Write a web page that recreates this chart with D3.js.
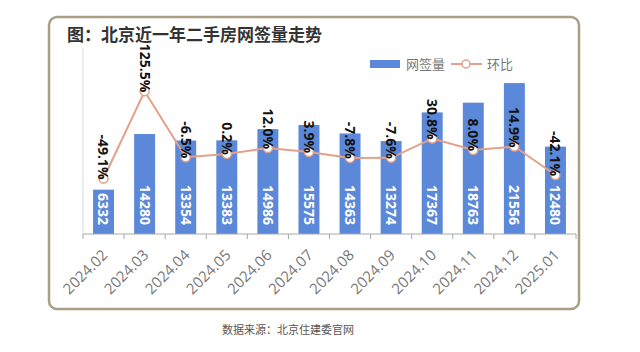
<!DOCTYPE html>
<html>
<head>
<meta charset="utf-8">
<script src="https://cdn.jsdelivr.net/npm/d3@7"></script>
<style>
  body { margin: 0; background: #fff; }
  text { font-family: "Open Sans", "Noto Sans CJK SC", sans-serif; }
  .cjk { font-family: "Noto Sans CJK SC", sans-serif; }
</style>
</head>
<body>
<div id="chart"></div>
<script>
const months = ['2024.02', '2024.03', '2024.04', '2024.05', '2024.06', '2024.07',
  '2024.08', '2024.09', '2024.10', '2024.11', '2024.12', '2025.01'];
const signed = [6332, 14280, 13354, 13383, 14986, 15575, 14363, 13274, 17367, 18763, 21556, 12480];
const mom = [-49.1, 125.5, -6.5, 0.2, 12.0, 3.9, -7.8, -7.6, 30.8, 8.0, 14.9, -42.1];

const width = 640;
const height = 352;
const barColor = '#5b88d8';
const lineColor = '#e4a08a';

const svg = d3.select('#chart').append('svg')
  .attr('width', width)
  .attr('height', height);

// card frame
svg.append('rect')
  .attr('x', 49).attr('y', 17)
  .attr('width', 530).attr('height', 292)
  .attr('rx', 8)
  .attr('fill', '#fff')
  .attr('stroke', '#a99f82')
  .attr('stroke-width', 2.5);

svg.append('text')
  .attr('class', 'cjk')
  .attr('x', 67).attr('y', 41)
  .attr('fill', '#333')
  .style('font-size', '17px')
  .style('font-weight', 'bold')
  .text('图：北京近一年二手房网签量走势');

const x = d3.scaleBand().domain(months).range([83, 576]).paddingInner(0.49).paddingOuter(0.245);
const xTicks = d3.scaleBand().domain(months).range([83, 576]);
const y = d3.scaleLinear().domain([0, 25000]).range([234, 59]);
const y2 = d3.scaleLinear().domain([-160, 190]).range([234, 59]);

// left axis line
svg.append('line')
  .attr('x1', 83).attr('x2', 83)
  .attr('y1', 48).attr('y2', 234)
  .attr('stroke', '#d5dbe6');

// bars
svg.append('g').selectAll('rect')
  .data(signed)
  .join('rect')
  .attr('x', (d, i) => x(months[i]))
  .attr('y', d => y(d))
  .attr('width', x.bandwidth())
  .attr('height', d => y(0) - y(d))
  .attr('fill', barColor);

// bar value labels
svg.append('g').selectAll('text')
  .data(signed)
  .join('text')
  .attr('transform', (d, i) => `translate(${x(months[i]) + x.bandwidth() / 2},${y(0) - 9}) rotate(90)`)
  .attr('dy', '0.36em')
  .attr('text-anchor', 'end')
  .attr('fill', '#fff')
  .style('font-size', '14px')
  .style('font-weight', 'bold')
  .text(d => d);

// x axis
const xAxis = svg.append('g')
  .attr('transform', 'translate(0,234)');
xAxis.append('line')
  .attr('x1', 83).attr('x2', 576)
  .attr('stroke', '#a8a8a8');
xAxis.selectAll('.tick')
  .data(d3.range(months.length + 1))
  .join('line')
  .attr('x1', i => 83 + i * xTicks.step())
  .attr('x2', i => 83 + i * xTicks.step())
  .attr('y2', 5)
  .attr('stroke', '#a8a8a8');
xAxis.selectAll('text')
  .data(months)
  .join('text')
  .attr('transform', d => `translate(${x(d) + x.bandwidth() / 2 + 5},${22}) rotate(-45)`)
  .attr('text-anchor', 'end')
  .attr('fill', '#777')
  .style('font-size', '15px')
  .text(d => d);

// month-on-month line
const line = d3.line()
  .x((d, i) => x(months[i]) + x.bandwidth() / 2)
  .y(d => y2(d));

svg.append('path')
  .datum(mom)
  .attr('d', line)
  .attr('fill', 'none')
  .attr('stroke', lineColor)
  .attr('stroke-width', 2);

svg.append('g').selectAll('circle')
  .data(mom)
  .join('circle')
  .attr('cx', (d, i) => x(months[i]) + x.bandwidth() / 2)
  .attr('cy', d => y2(d))
  .attr('r', 4.5)
  .attr('fill', '#fff')
  .attr('stroke', lineColor)
  .attr('stroke-width', 1.5);

svg.append('g').selectAll('text')
  .data(mom)
  .join('text')
  .attr('transform', (d, i) => `translate(${x(months[i]) + x.bandwidth() / 2},${y2(d) + 1}) rotate(90)`)
  .attr('dy', '0.36em')
  .attr('text-anchor', 'end')
  .attr('fill', '#111')
  .style('font-size', '14px')
  .style('font-weight', 'bold')
  .text(d => d.toFixed(1) + '%');

// legend
const legend = svg.append('g');
legend.append('rect')
  .attr('x', 370).attr('y', 60)
  .attr('width', 30).attr('height', 8)
  .attr('fill', barColor);
legend.append('text')
  .attr('class', 'cjk')
  .attr('x', 406).attr('y', 69)
  .attr('fill', '#777')
  .style('font-size', '13px')
  .text('网签量');
legend.append('line')
  .attr('x1', 451).attr('x2', 482)
  .attr('y1', 64).attr('y2', 64)
  .attr('stroke', lineColor)
  .attr('stroke-width', 2);
legend.append('circle')
  .attr('cx', 466).attr('cy', 64).attr('r', 4)
  .attr('fill', '#fff')
  .attr('stroke', lineColor)
  .attr('stroke-width', 1.5);
legend.append('text')
  .attr('class', 'cjk')
  .attr('x', 487).attr('y', 69)
  .attr('fill', '#777')
  .style('font-size', '13px')
  .text('环比');

svg.append('text')
  .attr('class', 'cjk')
  .attr('x', 288).attr('y', 334)
  .attr('text-anchor', 'middle')
  .attr('fill', '#555')
  .style('font-size', '11px')
  .text('数据来源：北京住建委官网');
</script>
</body>
</html>
